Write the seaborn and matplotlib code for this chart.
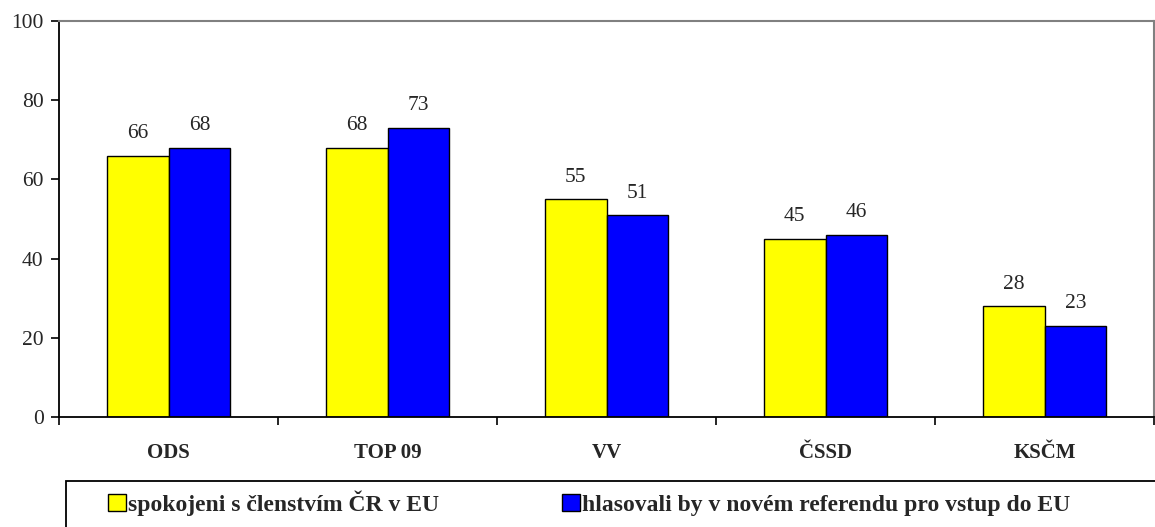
import pandas as pd
import numpy as np
import matplotlib
matplotlib.use('Agg')
import matplotlib.pyplot as plt
import seaborn as sns
from matplotlib.patches import Rectangle, Patch

# -------------------------------
# Data
# -------------------------------
parties = ['ODS', 'TOP 09', 'VV', 'ČSSD', 'KSČM']
spokojeni = [66, 68, 55, 45, 28]
hlasovali = [68, 73, 51, 46, 23]
series_names = ['spokojeni s členstvím ČR v EU',
                'hlasovali by v novém referendu pro vstup do EU']
series_colors = ['#FFFF00', '#0000FF']

df = pd.DataFrame({
    'party': parties * 2,
    'value': spokojeni + hlasovali,
    'series': [series_names[0]] * len(parties) + [series_names[1]] * len(parties),
})

# -------------------------------
# Plot
# -------------------------------
sns.set_style('white')
plt.rcParams['font.family'] = ['Liberation Serif', 'DejaVu Serif']

W, H = 1155, 527
fig = plt.figure(figsize=(W / 100, H / 100), dpi=100)
ax = fig.add_axes([59 / W, 1 - 417 / H, (1154 - 59) / W, (417 - 21) / H])

sns.barplot(data=df, x='party', y='value', hue='series', order=parties,
            hue_order=series_names, palette=series_colors, width=0.566,
            edgecolor='black', linewidth=1.0, saturation=1, legend=False, ax=ax)

for cont in ax.containers:
    ax.bar_label(cont, padding=9, fontsize=15.5)

ax.set_ylim(0, 100)
ax.set_xlim(-0.5, len(parties) - 0.5)
ax.set_yticks(np.arange(0, 101, 20))
ax.set_xlabel('')
ax.set_ylabel('')

# spines
for side in ['left', 'bottom']:
    ax.spines[side].set_color('black')
    ax.spines[side].set_linewidth(1.3)
for side in ['top', 'right']:
    ax.spines[side].set_color('#808080')
    ax.spines[side].set_linewidth(1.5)

ax.tick_params(axis='y', direction='out', length=6, width=1.2, color='black',
               labelsize=15.5, pad=5, left=True)
ax.tick_params(axis='x', which='major', length=0, pad=19, labelsize=15)
ax.set_xticks(np.arange(-0.5, len(parties), 1.0), minor=True)
ax.tick_params(axis='x', which='minor', direction='out', length=6, width=1.2,
               color='black', bottom=True)
for lbl in ax.get_xticklabels():
    lbl.set_fontweight('bold')

# legend with a box that runs off the figure edge
fig.patches.append(Rectangle((66 / W, -0.1), 1.2, (1 - 481 / H) + 0.1,
                             transform=fig.transFigure, fill=False,
                             edgecolor='black', linewidth=1.3))
handles = [Patch(facecolor=c, edgecolor='black', linewidth=1.0) for c in series_colors]
fig.legend(handles, series_names, loc='center left',
           bbox_to_anchor=(108 / W, 1 - 503 / H), ncol=2, frameon=False,
           prop={'weight': 'bold', 'size': 17}, handlelength=0.75,
           handleheight=0.75, handletextpad=0.1, columnspacing=5.2,
           borderpad=0, borderaxespad=0)

plt.savefig('out.png', dpi=100)
